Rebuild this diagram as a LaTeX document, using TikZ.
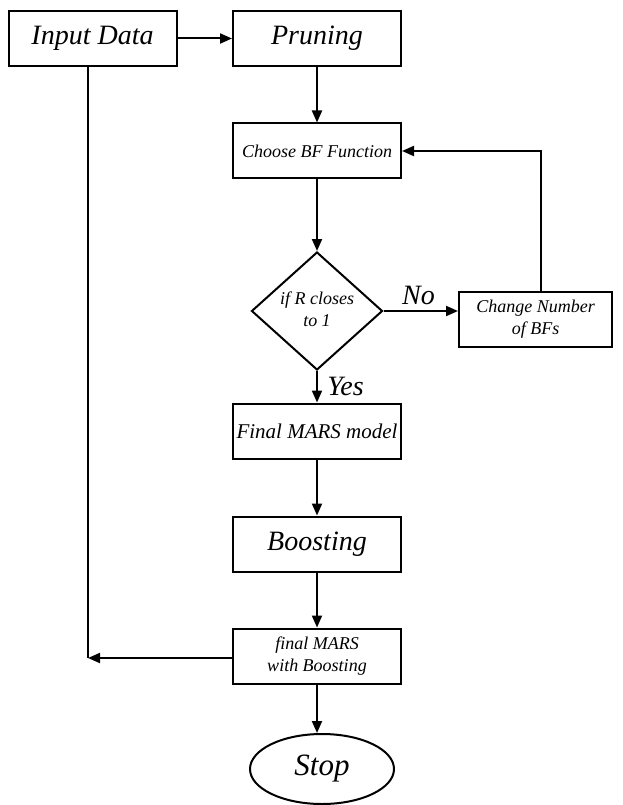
\documentclass[tikz,border=0pt]{standalone}
\usepackage{fontspec}
\setmainfont{Liberation Serif}
\usetikzlibrary{arrows.meta,shapes.geometric}
\begin{document}
\begin{tikzpicture}[x=1pt,y=-1pt,
  line width=2pt,
  flow/.style={-{Triangle[length=12pt,width=10pt]}},
  box/.style={draw,rectangle,minimum width=168pt,minimum height=55pt,inner sep=0pt,align=center},
  big/.style={font=\fontsize{28}{32}\selectfont\itshape},
  small/.style={font=\fontsize{18}{22}\selectfont\itshape},
  mid/.style={font=\fontsize{21}{24}\selectfont\itshape}]
\useasboundingbox (0,0) rectangle (623,805);

% process boxes
\node[box,big] (inp) at (92.5,38.5) {Input Data};
\node[box,big] (prn) at (317,38.5) {Pruning};
\node[box,small] (bf) at (317,151) {Choose BF Function};
\node[draw,diamond,minimum width=131pt,minimum height=118pt,inner sep=0pt,align=center,small] (dec) at (317,311) {\raisebox{-4pt}{\begin{tabular}{@{}c@{}}if R closes\\to 1\end{tabular}}};
\node[draw,rectangle,minimum width=153pt,minimum height=55pt,inner sep=0pt,align=center,small] (chg) at (535.5,319.5) {Change Number\\of BFs};
\node[box,mid] (fmm) at (317,431) {Final MARS model};
\node[box,big] (bst) at (317,544) {Boosting};
\node[box,small] (fin) at (317,656) {final MARS\\with Boosting};
\node[draw,ellipse,minimum width=144pt,minimum height=70pt,inner sep=0pt,font=\fontsize{31}{34}\selectfont\itshape] (stop) at (322,769) {Stop};

% connectors
\coordinate (inpdown) at (88,67);
\coordinate (ret) at (88,658);
\draw[flow] (inp.east) -- (prn.west);
\draw[flow] (prn.south) -- (bf.north);
\draw[flow] (bf.south) -- (dec.north);
\draw[flow] (dec.east) -- (dec.east -| chg.west)
  node[pos=0.47,above=2pt,big] {No};
\draw[flow] ([xshift=5.5pt]chg.north) |- (bf.east);
\draw[flow] (dec.south) -- (fmm.north)
  node[pos=0.5,right=6pt,big] {Yes};
\draw[flow] (fmm.south) -- (bst.north);
\draw[flow] (bst.south) -- (fin.north);
\draw[flow] (fin.south) -- (fin.south |- stop.north);
\draw (inpdown) -- (ret);
\draw[flow] (fin.west |- ret) -- (ret);
\end{tikzpicture}
\end{document}
